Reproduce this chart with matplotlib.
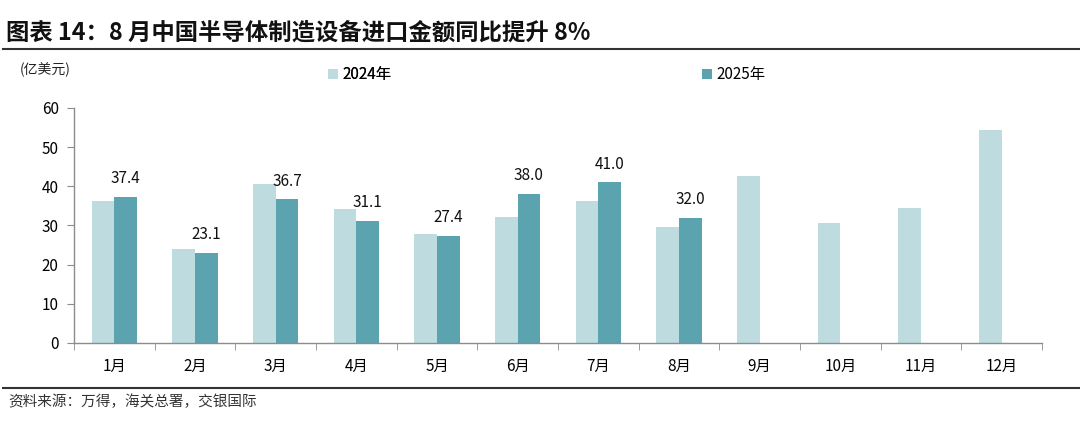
import matplotlib
matplotlib.use("Agg")
import matplotlib.pyplot as plt
import numpy as np

plt.rcParams['font.family'] = ['Noto Sans CJK SC', 'DejaVu Sans']

months = ['1月', '2月', '3月', '4月', '5月', '6月', '7月', '8月', '9月', '10月', '11月', '12月']
vals_2024 = [36.3, 23.9, 40.7, 34.2, 27.8, 32.2, 36.3, 29.7, 42.6, 30.7, 34.4, 54.3]
vals_2025 = [37.4, 23.1, 36.7, 31.1, 27.4, 38.0, 41.0, 32.0]
yticks = [0, 10, 20, 30, 40, 50, 60]

c24 = '#BEDCE0'
c25 = '#5BA3AE'
axis_col = '#8C8C8C'

fig = plt.figure(figsize=(10.8, 4.33), dpi=100)
ax = fig.add_axes([0.0685, 0.2079, 0.8963, 0.5427])

x = np.arange(len(months))
w = 0.28
b24 = ax.bar(x - w / 2, vals_2024, width=w, color=c24, label='2024年')
x25 = np.arange(len(vals_2025))
b25 = ax.bar(x25 + w / 2, vals_2025, width=w, color=c25, label='2025年')

for xi, v in zip(x25, vals_2025):
    ax.annotate(f'{v:.1f}', (xi + w / 2, v), xytext=(0, 7), textcoords='offset points',
                ha='center', va='bottom', fontsize=11, color='#111111')

ax.set_xlim(-0.5, len(months) - 0.5)
ax.set_ylim(0, 60)
ax.set_yticks(yticks)
ax.set_yticklabels([str(t) for t in yticks], fontsize=11)
ax.set_xticks(x)
ax.set_xticklabels(months, fontsize=11)
ax.set_xticks(np.arange(-0.5, len(months)), minor=True)
ax.tick_params(axis='x', which='major', length=0, pad=11)
ax.tick_params(axis='x', which='minor', length=5, color=axis_col, direction='out')
ax.tick_params(axis='y', length=5, color=axis_col, direction='out', pad=6)

for s in ['top', 'right']:
    ax.spines[s].set_visible(False)
for s in ['left', 'bottom']:
    ax.spines[s].set_color(axis_col)
    ax.spines[s].set_linewidth(1.0)

leg1 = fig.legend(handles=[b24], loc='center left', bbox_to_anchor=(0.297, 0.828), frameon=False,
                  fontsize=11, handlelength=0.65, handleheight=0.65, handletextpad=0.3, borderpad=0)
fig.add_artist(leg1)
fig.legend(handles=[b25], loc='center left', bbox_to_anchor=(0.643, 0.828), frameon=False,
           fontsize=11, handlelength=0.65, handleheight=0.65, handletextpad=0.3, borderpad=0)

fig.text(0.018, 0.838, '(亿美元)', fontsize=10, ha='left', va='center', color='#222222')

fig.text(0.006, 0.925, '图表 14：8 月中国半导体制造设备进口金额同比提升 8%', fontsize=16.8,
         fontweight='bold', ha='left', va='center', color='#111111')
fig.add_artist(plt.Line2D([0.003, 1.0], [0.887, 0.887], color='#333333', lw=1.5, transform=fig.transFigure))
fig.add_artist(plt.Line2D([0.003, 1.0], [0.104, 0.104], color='#333333', lw=1.5, transform=fig.transFigure))
fig.text(0.008, 0.072, '资料来源：万得，海关总署，交银国际', fontsize=10.5, ha='left', va='center',
         color='#333333')

fig.savefig('out.png', dpi=100)
